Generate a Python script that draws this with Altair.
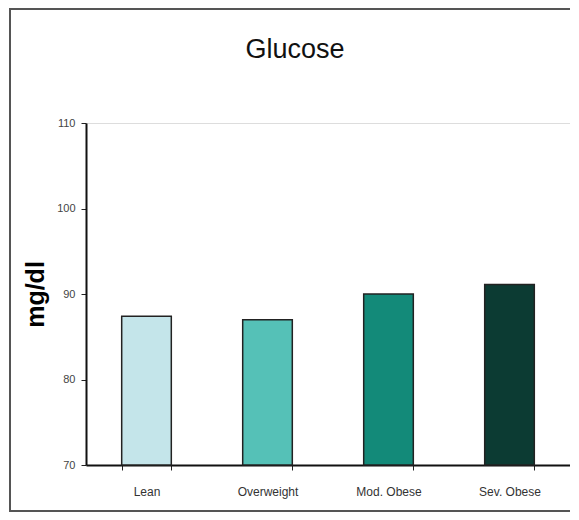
import altair as alt
import pandas as pd

categories = ["Lean", "Overweight", "Mod. Obese", "Sev. Obese"]
values = [87.4, 87.0, 90.0, 91.1]
colors = ["#c4e5ea", "#55c1b7", "#138a79", "#0c3b33"]
y_ticks = [70, 80, 90, 100, 110]
y_base = 70

df = pd.DataFrame({"group": categories, "glucose": values})

font = "Liberation Sans"

bars = alt.Chart(df).mark_bar(stroke="#222222", strokeWidth=1.5).encode(
    x=alt.X(
        "group:N",
        sort=categories,
        scale=alt.Scale(paddingInner=0.59, paddingOuter=0.295),
        axis=alt.Axis(
            title=None,
            labelAngle=0,
            labelFont=font,
            labelFontSize=12,
            labelColor="#333333",
            labelPadding=16,
            tickBand="extent",
            tickSize=5,
            tickColor="#222222",
            domainColor="#111111",
            domainWidth=2,
        ),
    ),
    y=alt.Y(
        "glucose:Q",
        scale=alt.Scale(domain=[70, 110], nice=False, zero=False),
        axis=alt.Axis(
            title="mg/dl",
            values=y_ticks,
            titleFont=font,
            titleFontSize=25,
            titleFontWeight="bold",
            titleColor="#000000",
            titlePadding=8,
            labelFont=font,
            labelFontSize=11,
            labelColor="#444444",
            labelPadding=6,
            tickSize=5,
            tickColor="#222222",
            domainColor="#111111",
            domainWidth=2,
            grid=False,
        ),
    ),
    y2=alt.Y2(datum=y_base),
    color=alt.Color(
        "group:N",
        sort=categories,
        scale=alt.Scale(domain=categories, range=colors),
        legend=None,
    ),
)

frame = alt.Chart(df).mark_rect(
    fill=None, stroke="#555555", strokeWidth=2, clip=False
).encode(
    x=alt.value(-76),
    x2=alt.value(520),
    y=alt.value(-114),
    y2=alt.value(388),
)

chart = alt.layer(frame, bars).properties(
    width=484,
    height=342,
    autosize=alt.AutoSizeParams(type="none"),
    padding={"left": 78, "top": 115, "right": 0, "bottom": 47},
    title=alt.TitleParams(
        "Glucose",
        font=font,
        fontSize=27,
        fontWeight="normal",
        color="#111111",
        anchor="middle",
        dx=-33,
        offset=-56,
    ),
).configure_view(stroke="#bbbbbb", strokeWidth=1.5).configure(background="white")

chart.save("out.html", embed_options={"renderer": "svg", "actions": False})
